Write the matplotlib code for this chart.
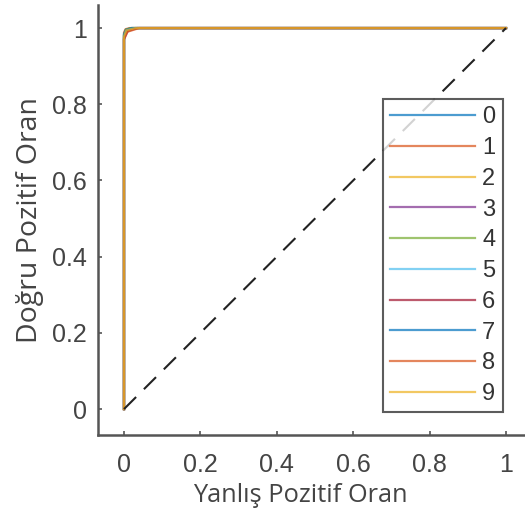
import matplotlib
matplotlib.use("Agg")
import matplotlib.pyplot as plt
import numpy as np

plt.rcParams['font.family'] = ['Liberation Sans', 'DejaVu Sans']

classes = ['0', '1', '2', '3', '4', '5', '6', '7', '8', '9']
colors = ['#0072BD', '#D95319', '#EDB120', '#7E2F8E', '#77AC30',
          '#4DBEEE', '#A2142F', '#0072BD', '#D95319', '#EDB120']
fpr = {
    '0': [0, 0, 0.005, 0.02, 1], '1': [0, 0, 0.004, 0.015, 1],
    '2': [0, 0, 0.006, 0.02, 1], '3': [0, 0, 0.008, 0.03, 1],
    '4': [0, 0, 0.005, 0.02, 1], '5': [0, 0, 0.006, 0.025, 1],
    '6': [0, 0, 0.01, 0.035, 1], '7': [0, 0, 0.005, 0.02, 1],
    '8': [0, 0, 0.008, 0.04, 1], '9': [0, 0, 0.006, 0.03, 1],
}
tpr = {
    '0': [0, 0.985, 0.996, 1, 1], '1': [0, 0.988, 0.997, 1, 1],
    '2': [0, 0.98, 0.995, 1, 1], '3': [0, 0.975, 0.993, 1, 1],
    '4': [0, 0.982, 0.996, 1, 1], '5': [0, 0.98, 0.994, 1, 1],
    '6': [0, 0.97, 0.992, 1, 1], '7': [0, 0.983, 0.995, 1, 1],
    '8': [0, 0.972, 0.99, 1, 1], '9': [0, 0.978, 0.994, 1, 1],
}
ticks = [0, 0.2, 0.4, 0.6, 0.8, 1]
tick_labels = ['0', '0.2', '0.4', '0.6', '0.8', '1']

fig = plt.figure(figsize=(5.25, 5.22), dpi=100)
ax = fig.add_axes([0.1867, 0.1667, 0.8133, 0.8238])
for c, col in zip(classes, colors):
    ax.plot(fpr[c], tpr[c], color=col, lw=1.6, label=c, alpha=0.7)
ax.plot([0, 1], [0, 1], '--', color='#222222', lw=1.5, dashes=(8.2, 5.3))

ax.set_xlim(-0.068, 1.0497)
ax.set_ylim(-0.068, 1.0606)
ax.set_xticks(ticks)
ax.set_xticklabels(tick_labels)
ax.set_yticks(ticks)
ax.set_yticklabels(tick_labels)
for s in ['top', 'right']:
    ax.spines[s].set_visible(False)
for s in ['left', 'bottom']:
    ax.spines[s].set_color('#555555')
    ax.spines[s].set_linewidth(1.8)
ax.tick_params(direction='in', length=3, width=1.2, color='#555555',
               labelsize=18, labelcolor='#444444')
ax.tick_params(axis='x', pad=13)
ax.tick_params(axis='y', pad=8)
ax.set_xlabel('Yanlış Pozitif Oran', fontsize=18.3, color='#444444',
              family=['Open Sans', 'DejaVu Sans'])
ax.xaxis.set_label_coords(0.475, -0.112)
ax.set_ylabel('Doğru Pozitif Oran', fontsize=20.5, color='#444444',
              labelpad=6, family=['Open Sans', 'DejaVu Sans'])

leg = ax.legend(loc='lower left', bbox_to_anchor=(0.6675, 0.053), fontsize=17,
                frameon=True, fancybox=False, edgecolor='#333333',
                handlelength=3.6, handletextpad=0.3, labelspacing=0.37,
                borderpad=0.3, borderaxespad=0, handleheight=0.7)
leg.get_frame().set_linewidth(1.5)
for t in leg.get_texts():
    t.set_color('#333333')

fig.savefig('out.png', dpi=100)
